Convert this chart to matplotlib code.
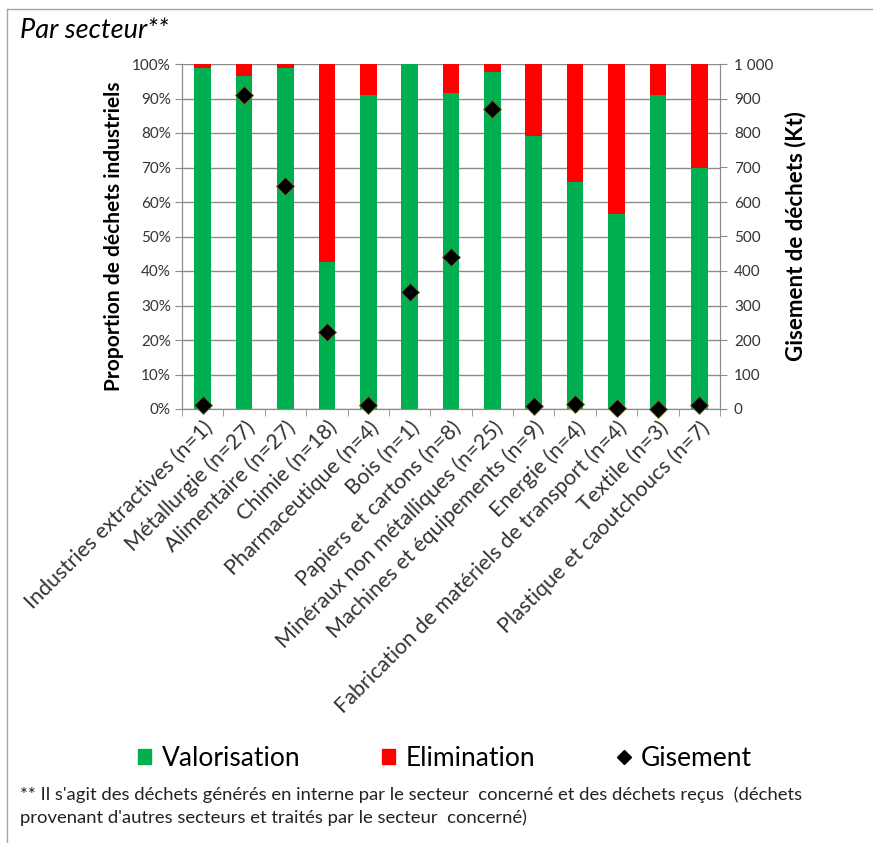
import matplotlib
matplotlib.use("Agg")
import matplotlib.pyplot as plt
from matplotlib.lines import Line2D
from matplotlib.patches import Patch
import numpy as np

plt.rcParams['font.family'] = ['Lato', 'DejaVu Sans']

sectors = ["Industries extractives (n=1)", "Métallurgie (n=27)", "Alimentaire (n=27)",
           "Chimie (n=18)", "Pharmaceutique (n=4)", "Bois (n=1)", "Papiers et cartons (n=8)",
           "Minéraux non métalliques (n=25)", "Machines et équipements (n=9)", "Energie (n=4)",
           "Fabrication de matériels de transport (n=4)", "Textile (n=3)",
           "Plastique et caoutchoucs (n=7)"]
valorisation = [98.7, 96.6, 98.7, 42.7, 91.1, 100.0, 91.6, 97.7, 79.0, 65.7, 56.4, 91.0, 69.8]
elimination = [100 - v for v in valorisation]
gisement = [12, 911, 647, 223, 12, 338, 442, 869, 10, 15, 3, 0, 11]

GREEN = "#00B050"
RED = "#FF0000"
GREY = "#8C8C8C"

fig = plt.figure(figsize=(8.73, 8.43), dpi=100)
# outer frame of the original figure
fig.add_artist(Line2D([7/873, 7/873], [0, 1 - 9/843], transform=fig.transFigure, color="#A6A6A6", lw=1))
fig.add_artist(Line2D([7/873, 1], [1 - 9/843, 1 - 9/843], transform=fig.transFigure, color="#A6A6A6", lw=1))

ax = fig.add_axes([182/873, 1 - 409/843, 538/873, 345/843])
x = np.arange(len(sectors))
ax.bar(x, valorisation, width=0.4, color=GREEN, zorder=2)
ax.bar(x, elimination, width=0.4, bottom=valorisation, color=RED, zorder=2)
ax.set_xlim(-0.5, len(sectors) - 0.5)
ax.set_ylim(0, 100)
ax.set_yticks(range(0, 101, 10))
ax.set_yticklabels([f"{v}%" for v in range(0, 101, 10)], fontsize=11, color="#333333")
ax.yaxis.grid(True, color=GREY, lw=1, zorder=0)
ax.set_xticks(x)
ax.set_xticklabels(sectors, rotation=45, ha="right", rotation_mode="anchor", fontsize=15.5, color="#333333")
ax.set_xticks(np.arange(-0.5, len(sectors), 1), minor=True)
ax.tick_params(axis="x", which="major", length=0, pad=6)
ax.tick_params(axis="x", which="minor", length=5, color=GREY)
ax.tick_params(axis="y", length=5, color=GREY, pad=3)
for s in ["left", "right", "bottom"]:
    ax.spines[s].set_color(GREY)
ax.spines["top"].set_visible(False)
ax.set_ylabel("Proportion de déchets industriels", fontsize=15, fontweight="bold", labelpad=6)

ax2 = ax.twinx()
ax2.plot(x, gisement, linestyle="none", marker="D", markersize=9, color="black",
         markeredgecolor="#6B6B2E", markeredgewidth=0.6, clip_on=False, zorder=4)
ax2.set_ylim(0, 1000)
ax2.set_yticks(range(0, 1001, 100))
ax2.set_yticklabels(["0", "100", "200", "300", "400", "500", "600", "700", "800", "900", "1 000"],
                    fontsize=11, color="#333333")
ax2.tick_params(axis="y", length=5, color=GREY, pad=5)
for s in ["left", "right", "bottom"]:
    ax2.spines[s].set_color(GREY)
ax2.spines["top"].set_visible(False)
ax2.set_ylabel("Gisement de déchets (Kt)", fontsize=16, fontweight="bold", labelpad=8)

fig.text(20/873, 1 - 30/843, "Par secteur**", fontsize=19.5, style="italic", va="center", ha="left")

handles = [Patch(color=GREEN, label="Valorisation"), Patch(color=RED, label="Elimination"),
           Line2D([], [], linestyle="none", marker="D", color="black", markersize=7, label="Gisement")]
fig.legend(handles=handles, loc="center", bbox_to_anchor=(445/873, 1 - 758/843), ncol=3,
           frameon=False, fontsize=19, handlelength=0.5, handleheight=0.5, handletextpad=0.4,
           columnspacing=3.1)

fig.text(20/873, 1 - 795/843,
         "** Il s'agit des déchets générés en interne par le secteur  concerné et des déchets reçus  (déchets",
         fontsize=13.3, va="center", ha="left", color="#222222")
fig.text(20/873, 1 - 818/843,
         "provenant d'autres secteurs et traités par le secteur  concerné)",
         fontsize=13.3, va="center", ha="left", color="#222222")

fig.savefig("out.png", dpi=100)
